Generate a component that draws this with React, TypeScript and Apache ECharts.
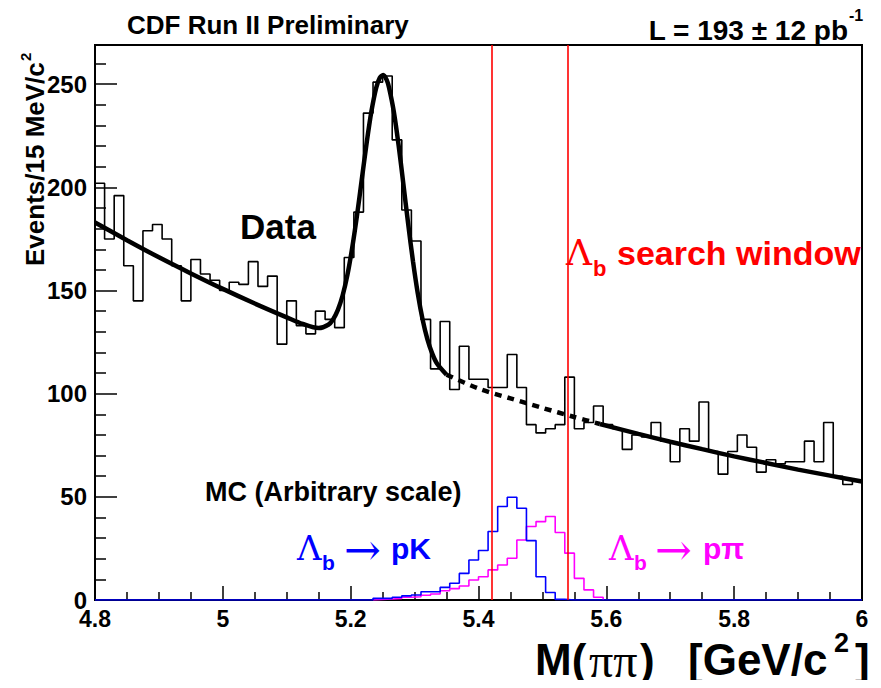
import React, { useEffect, useRef } from "react";
import * as echarts from "echarts";

// ---- histogram binning (15 MeV bins, 4.8 - 6.0 GeV) ----
const binLow = 4.8;
const binWidth = 0.015;
const nBins = 80;

// ---- data histogram (events per bin) ----
const dataCounts = [
  202, 175, 196, 162, 145, 179, 182, 175, 162, 145,
  165, 158, 155, 150, 154, 153, 164, 152, 157, 124,
  145, 133, 129, 140, 136, 132, 166, 188, 236, 251,
  254, 223, 189, 174, 136, 112, 135, 102, 123, 107,
  107, 103, 103, 119, 103, 85, 81, 83, 85, 108,
  83, 86, 94, 85, 83, 73, 80, 79, 86, 77,
  67, 83, 77, 96, 72, 61, 72, 80, 74, 62,
  68, 66, 67, 67, 77, 67, 86, 60, 56, 58,
];

// ---- MC templates (arbitrary scale), first non-empty bin = mcFirstBin ----
const mcFirstBin = 29;
const mcLambdaPK = [
  0.8, 0.8, 1.3, 2, 2.4, 4, 4, 6.1, 8.1, 12.9,
  19.4, 24, 33.2, 45.3, 49.8, 44.5, 28.8, 11.3, 3.6, 0.3,
];
const mcLambdaPPi = [
  0.3, 0.5, 0.8, 1.3, 1.6, 2.3, 2.9, 4.5, 5.5, 6.8,
  9.7, 11.3, 14.6, 17, 20.2, 29.1, 35.6, 38, 40.5, 32.7,
  22.7, 10.5, 4.9, 1.3,
];

// ---- fit curve ----
const fitMass = [
  4.8, 4.85, 4.9, 4.95, 5.0, 5.05, 5.1, 5.125, 5.15, 5.165,
  5.1725, 5.18, 5.1875, 5.195, 5.2025, 5.21, 5.2175, 5.225, 5.2325, 5.24,
  5.2455, 5.251, 5.2565, 5.26, 5.2675, 5.275, 5.2825, 5.29, 5.2975, 5.305,
  5.3125, 5.32, 5.3275, 5.335, 5.35, 5.4, 5.45, 5.5, 5.55, 5.59,
  5.65, 5.7, 5.75, 5.8, 5.85, 5.9, 5.95, 6.0,
];
const fitEvents = [
  183.0, 174.4, 166.1, 158.3, 150.8, 143.7, 137.0, 133.8, 131.8, 133.4,
  136.0, 140.6, 147.7, 157.7, 170.9, 186.6, 204.1, 221.5, 236.9, 248.3,
  253.1, 254.5, 252.0, 248.4, 236.7, 220.4, 201.5, 182.2, 164.2, 148.6,
  136.0, 126.4, 119.5, 114.6, 109.2, 102.5, 97.7, 93.1, 88.7, 85.3,
  80.5, 76.7, 73.1, 69.6, 66.4, 63.2, 60.3, 57.4,
];
const fitDashedFrom = 5.35;
const fitDashedTo = 5.59;

// ---- search window ----
const searchWindow = [5.415, 5.535];

// ---- axes ----
const xMin = 4.8;
const xMax = 6.0;
const yMin = 0;
const yMax = 269;

const sans = "'Liberation Sans', Arial, Helvetica, sans-serif";
const serif = "'Liberation Serif', 'DejaVu Serif', serif";
const symbolFont = "'DejaVu Serif', 'Liberation Serif', serif";

function edges(): number[] {
  const e: number[] = [];
  for (let i = 0; i <= nBins; i++) e.push(+(binLow + binWidth * i).toFixed(4));
  return e;
}

function stepData(values: number[]): number[][] {
  const e = edges();
  return e.map((x, i) => [x, values[Math.min(i, values.length - 1)]]);
}

function padMC(vals: number[]): number[] {
  const out: number[] = [];
  for (let i = 0; i < nBins; i++) {
    const k = i - mcFirstBin;
    out.push(k >= 0 && k < vals.length ? vals[k] : 0);
  }
  return out;
}

// only the non-empty stretch of a template (dropping to 0 at both ends)
function stepSpan(vals: number[]): number[][] {
  const e = edges();
  const pts: number[][] = [[e[mcFirstBin], 0]];
  vals.forEach((v, k) => pts.push([e[mcFirstBin + k], v]));
  pts.push([e[mcFirstBin + vals.length], 0]);
  return pts;
}

function fitPart(from: number, to: number): number[][] {
  const pts: number[][] = [];
  fitMass.forEach((m, i) => {
    if (m >= from - 1e-9 && m <= to + 1e-9) pts.push([m, fitEvents[i]]);
  });
  return pts;
}

export default function App() {
  const ref = useRef<HTMLDivElement>(null);
  useEffect(() => {
    if (!ref.current) return;
    const chart = echarts.init(ref.current, undefined, { renderer: "svg" });
    const fitLine = (data: number[][], dashed: boolean) => ({
      type: "line",
      data,
      smooth: 0.3,
      symbol: "none",
      z: 5,
      silent: true,
      lineStyle: { color: "#000", width: 4.5, type: dashed ? [7, 6] : "solid", cap: "butt" },
    });
    const t = (x: number, y: number, text: string, font: string, fill: string, extra: any = {}) => ({
      type: "text", x, y,
      style: { text, font, fill, verticalAlign: "middle", ...extra },
    });
    chart.setOption({
      animation: false,
      backgroundColor: "#fff",
      grid: {
        left: 95, right: 19, top: 45, bottom: 88,
        show: true, borderColor: "#000", borderWidth: 2, backgroundColor: "transparent",
      },
      xAxis: {
        type: "value", min: xMin, max: xMax, interval: 0.2,
        axisLine: { lineStyle: { color: "#000", width: 2 } },
        axisTick: { inside: true, length: 14, lineStyle: { color: "#000", width: 1.5 } },
        minorTick: { show: true, splitNumber: 4, length: 8, lineStyle: { color: "#000", width: 1.5 } },
        splitLine: { show: false },
        axisLabel: {
          color: "#000", fontFamily: sans, fontWeight: "bold", fontSize: 23, margin: 7,
          formatter: (v: number) => String(Math.round(v * 10) / 10),
        },
      },
      yAxis: {
        type: "value", min: yMin, max: yMax, interval: 50,
        axisLine: { show: true, lineStyle: { color: "#000", width: 2 } },
        axisTick: { inside: true, length: 22, lineStyle: { color: "#000", width: 1.5 } },
        minorTick: { show: true, splitNumber: 5, length: 11, lineStyle: { color: "#000", width: 1.5 } },
        splitLine: { show: false },
        axisLabel: {
          color: "#000", fontFamily: sans, fontWeight: "bold", fontSize: 24, margin: 8,
          showMaxLabel: false,
        },
      },
      series: [
        {
          type: "line", step: "end", data: stepData(dataCounts), symbol: "none", z: 3,
          lineStyle: { color: "#000", width: 1.6 },
          markLine: {
            silent: true, symbol: "none", label: { show: false },
            lineStyle: { color: "#ff0000", width: 1.6, type: "solid" },
            data: searchWindow.map((x) => ({ xAxis: x })),
          },
        },
        {
          type: "line", step: "end", data: stepSpan(mcLambdaPPi), symbol: "none", z: 3,
          lineStyle: { color: "#ff00ff", width: 1.6 },
        },
        {
          type: "line", step: "end", data: stepData(padMC(mcLambdaPK)), symbol: "none", z: 4,
          lineStyle: { color: "#0000ff", width: 1.6 },
        },
        fitLine(fitPart(xMin, fitDashedFrom), false),
        fitLine(fitPart(fitDashedFrom, fitDashedTo), true),
        fitLine(fitPart(fitDashedTo, xMax), false),
      ],
      graphic: [
        t(127, 25, "CDF Run II Preliminary", `bold 26px ${sans}`, "#000"),
        t(848, 30, "L = 193 \u00b1 12 pb", `bold 28px ${sans}`, "#000", { align: "right" }),
        t(849, 15, "-1", `bold 16px ${sans}`, "#000"),
        {
          type: "group", x: 35, y: 266, rotation: Math.PI / 2,
          children: [
            { type: "text", x: 0, y: 0, style: { text: "Events/15 MeV/c", font: `bold 26px ${sans}`, fill: "#000", align: "left", verticalAlign: "middle" } },
            { type: "text", x: 205, y: -10, style: { text: "2", font: `bold 15px ${sans}`, fill: "#000", align: "left", verticalAlign: "middle" } },
          ],
        },
        t(240, 226, "Data", `bold 35px ${sans}`, "#000"),
        t(566, 252, "\u039b", `36px ${symbolFont}`, "#ff0000"),
        t(593, 268, "b", `bold 22px ${sans}`, "#ff0000"),
        t(617, 253, "search window", `bold 34px ${sans}`, "#ff0000"),
        t(205, 492, "MC (Arbitrary scale)", `bold 27px ${sans}`, "#000"),
        t(297, 548, "\u039b", `34px ${symbolFont}`, "#0000ff"),
        t(322, 562, "b", `bold 21px ${sans}`, "#0000ff"),
        t(344, 549, "\u2192", `44px ${symbolFont}`, "#0000ff"),
        t(391, 548, "pK", `bold 30px ${sans}`, "#0000ff"),
        t(609, 548, "\u039b", `34px ${symbolFont}`, "#ff00ff"),
        t(634, 562, "b", `bold 21px ${sans}`, "#ff00ff"),
        t(655, 549, "\u2192", `44px ${symbolFont}`, "#ff00ff"),
        t(703, 548, "p\u03c0", `bold 30px ${sans}`, "#ff00ff"),
        t(535, 659, "M(", `bold 44px ${sans}`, "#000"),
        t(589, 660, "\u03c0\u03c0", `48px ${serif}`, "#000"),
        t(640, 659, ")", `bold 44px ${sans}`, "#000"),
        t(688, 659, "[GeV/c", `bold 44px ${sans}`, "#000"),
        t(834, 643, "2", `bold 27px ${sans}`, "#000"),
        t(855, 659, "]", `bold 44px ${sans}`, "#000"),
      ],
    });
    return () => chart.dispose();
  }, []);
  return <div ref={ref} style={{ width: 881, height: 688, margin: -8 }} />;
}
